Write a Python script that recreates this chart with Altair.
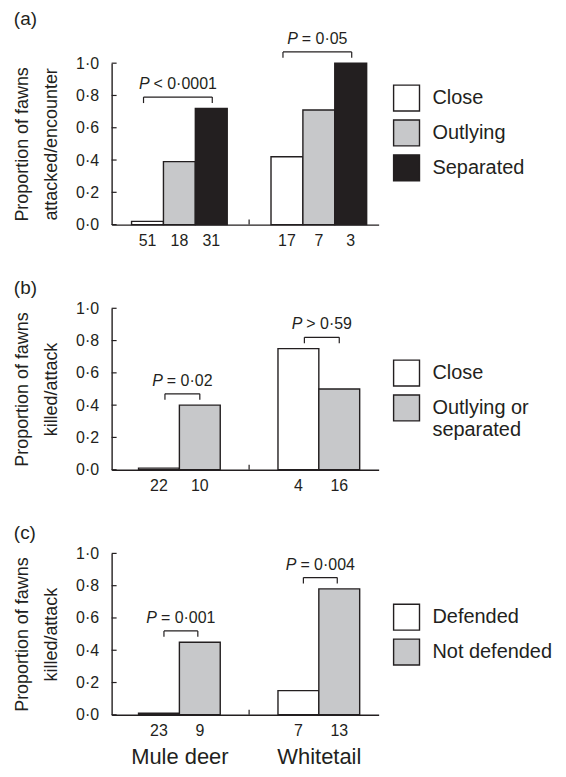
import altair as alt
import pandas as pd

# ---------------- data ----------------
species = ["Mule deer", "Whitetail"]
y_ticks = [0.0, 0.2, 0.4, 0.6, 0.8, 1.0]

a_categories = ["Close", "Outlying", "Separated"]
a_mule = [0.02, 0.39, 0.72]
a_white = [0.42, 0.71, 1.00]
a_mule_n = [51, 18, 31]
a_white_n = [17, 7, 3]
a_p = ["P < 0·0001", "P = 0·05"]

b_categories = ["Close", "Outlying or separated"]
b_mule = [0.01, 0.40]
b_white = [0.75, 0.50]
b_mule_n = [22, 10]
b_white_n = [4, 16]
b_p = ["P = 0·02", "P > 0·59"]

c_categories = ["Defended", "Not defended"]
c_mule = [0.01, 0.45]
c_white = [0.15, 0.78]
c_mule_n = [23, 9]
c_white_n = [7, 13]
c_p = ["P = 0·001", "P = 0·004"]

# ---------------- style ----------------
INK = "#231f20"
GREY = "#c7c8ca"
WHITE = "#ffffff"
FONT = "Liberation Sans"
PLOT_W = 268
PLOT_H = 162
X_DOMAIN = [0.514, 2.429]
PX = PLOT_W / (X_DOMAIN[1] - X_DOMAIN[0])  # pixels per x unit
P_FS = 16
P_GAP = 4
BR_GAP = 0.07
LW = 1.4

EM = {"0": .556, "1": .556, "2": .556, "3": .556, "4": .556, "5": .556,
      "6": .556, "7": .556, "8": .556, "9": .556, " ": .278,
      "=": .584, "<": .584, ">": .584, "·": .333, "P": .667}


def text_em(s):
    return sum(EM.get(ch, .556) for ch in s)


def wrap(label, maxlen=13):
    words = label.split(" ")
    lines, cur = [], ""
    for w_ in words:
        t = (cur + " " + w_).strip()
        if len(t) > maxlen and cur:
            lines.append(cur)
            cur = w_
        else:
            cur = t
    lines.append(cur)
    return lines


def legend_expr(cats):
    parts = []
    for c in cats:
        lines = wrap(c)
        if len(lines) > 1:
            arr = "[" + ",".join("'" + l + "'" for l in lines) + "]"
            parts.append((c, arr))
    expr = "datum.label"
    for c, arr in parts:
        expr = f"datum.label == '{c}' ? {arr} : " + expr
    return expr


def build_panel(letter, cats, colors, vals, ns, plabels, ytitle, bar_px,
                br_l, br_r, legend_y, show_species):
    w = bar_px / PX
    n = len(cats)
    rows = []
    for gi, sp in enumerate(species):
        g = gi + 1
        for k, cat in enumerate(cats):
            xc = g + (k - (n - 1) / 2) * w
            rows.append(dict(species=sp, cat=cat, value=vals[gi][k], zero=0.0,
                             n=str(ns[gi][k]), xc=xc, x0=xc - w / 2, x1=xc + w / 2))
    df = pd.DataFrame(rows)

    brows, erows = [], []
    for gi, sp in enumerate(species):
        sub = df[df.species == sp]
        xa = sub.xc.min() + br_l / PX
        xb = sub.xc.max() + br_r / PX
        h = sub.value.max() + BR_GAP
        lab = plabels[gi]
        head, rest = lab[0], lab[1:].strip()
        W = ((text_em(head) + text_em(rest)) * P_FS + P_GAP) / PX
        cx = (xa + xb) / 2
        xs = cx - W / 2 + text_em(head) * P_FS / PX
        brows.append(dict(species=sp, xa=xa, xb=xb, h=h, head=head, rest=rest, xs=xs))
        erows.append(dict(xe=xa, h=h))
        erows.append(dict(xe=xb, h=h))
    bdf = pd.DataFrame(brows)
    edf = pd.DataFrame(erows)
    tdf = pd.DataFrame({"v": y_ticks, "x0": [X_DOMAIN[0]] * len(y_ticks)})
    sdf = pd.DataFrame({"xs": [sum(range(1, len(species) + 1)) / len(species)], "y0": [0.0]})

    xscale = alt.Scale(domain=X_DOMAIN, nice=False, zero=False)
    yscale = alt.Scale(domain=[0, 1], nice=False)

    if show_species:
        n_sp = len(species)
        arr = "[" + ",".join("'" + s + "'" for s in species) + "]"
        xaxis = alt.Axis(values=list(range(1, n_sp + 1)), labelExpr=f"{arr}[datum.value - 1]",
                         ticks=False, grid=False, title=None, domainColor=INK,
                         domainWidth=LW, labelFontSize=22, labelPadding=32,
                         labelBaseline="top", labelColor=INK, labelFont=FONT,
                         labelOverlap=False, labelFlush=False)
    else:
        xaxis = alt.Axis(labels=False, ticks=False, grid=False, title=None,
                         domainColor=INK, domainWidth=LW)

    yaxis = alt.Axis(values=y_ticks,
                     labelExpr="replace(format(datum.value, '.1f'), '.', '·')",
                     ticks=False, grid=False, domainColor=INK, domainWidth=LW,
                     labelFontSize=16, labelPadding=13, labelColor=INK, labelFont=FONT,
                     labelOverlap=False, labelFlush=False,
                     title=ytitle, titleFontSize=18, titleFontWeight="normal",
                     titleLineHeight=29, titlePadding=15, titleColor=INK, titleFont=FONT)

    X = lambda f: alt.X(f, scale=xscale, axis=xaxis)
    Y = lambda f: alt.Y(f, scale=yscale, axis=yaxis)

    bars = alt.Chart(df).mark_bar(stroke=INK, strokeWidth=LW, opacity=1).encode(
        x=X("x0:Q"),
        x2="x1:Q",
        y=Y("value:Q"),
        y2="zero:Q",
        color=alt.Color("cat:N", scale=alt.Scale(domain=cats, range=colors),
                        legend=alt.Legend(title=None, orient="none", legendX=282,
                                          legendY=legend_y, symbolType="square",
                                          symbolSize=676, symbolStrokeColor=INK,
                                          symbolStrokeWidth=LW, symbolOpacity=1,
                                          labelFontSize=20, labelFont=FONT,
                                          labelColor=INK, labelOffset=12,
                                          rowPadding=3, padding=0,
                                          labelLimit=300,
                                          labelExpr=legend_expr(cats))),
    )
    counts = alt.Chart(df).mark_text(baseline="top", dy=8, fontSize=16, color=INK,
                                     font=FONT).encode(
        x=X("xc:Q"), y=Y("zero:Q"), text="n:N")
    brule = alt.Chart(bdf).mark_rule(color=INK, strokeWidth=1.2).encode(
        x=X("xa:Q"), x2="xb:Q", y=Y("h:Q"))
    bends = alt.Chart(edf).mark_tick(orient="vertical", size=6, thickness=1.2,
                                     yOffset=3, color=INK, opacity=1).encode(
        x=X("xe:Q"), y=Y("h:Q"))
    phead = alt.Chart(bdf).mark_text(align="right", baseline="alphabetic", dy=-8,
                                     fontSize=P_FS, fontStyle="italic", color=INK,
                                     font=FONT).encode(
        x=X("xs:Q"), y=Y("h:Q"), text="head:N")
    prest = alt.Chart(bdf).mark_text(align="left", baseline="alphabetic", dy=-8,
                                     dx=P_GAP, fontSize=P_FS, color=INK,
                                     font=FONT).encode(
        x=X("xs:Q"), y=Y("h:Q"), text="rest:N")
    yt = alt.Chart(tdf).mark_tick(orient="horizontal", size=5, thickness=1.2,
                                  xOffset=2.5, color=INK, opacity=1).encode(
        x=X("x0:Q"), y=Y("v:Q"))
    sep = alt.Chart(sdf).mark_tick(orient="vertical", size=5, thickness=1.2,
                                   yOffset=-2.5, color=INK, opacity=1).encode(
        x=X("xs:Q"), y=Y("y0:Q"))

    return alt.layer(bars, counts, brule, bends, phead, prest, yt, sep).properties(
        width=PLOT_W, height=PLOT_H,
        title=alt.TitleParams(letter, anchor="start", frame="bounds", fontSize=19,
                              fontWeight="normal", color=INK, font=FONT, offset=2),
    )


pa = build_panel("(a)", a_categories, [WHITE, GREY, INK], [a_mule, a_white],
                 [a_mule_n, a_white_n], a_p,
                 ["Proportion of fawns", "attacked/encounter"], 32, -4, 1, 21, False)
pb = build_panel("(b)", b_categories, [WHITE, GREY], [b_mule, b_white],
                 [b_mule_n, b_white_n], b_p,
                 ["Proportion of fawns", "killed/attack"], 41, 6, 0, 51, False)
pc = build_panel("(c)", c_categories, [WHITE, GREY], [c_mule, c_white],
                 [c_mule_n, c_white_n], c_p,
                 ["Proportion of fawns", "killed/attack"], 41, 5, -2, 50, True)

chart = alt.vconcat(pa, pb, pc, spacing=31).resolve_scale(
    color="independent", x="independent", y="independent"
).resolve_legend(color="independent").configure(
    font=FONT, padding={"left": 5, "top": 0, "right": 5, "bottom": 0}
).configure_view(stroke=None).configure_axis(labelOverlap=False)

chart.save("out.html", embed_options={"renderer": "svg", "actions": False})
